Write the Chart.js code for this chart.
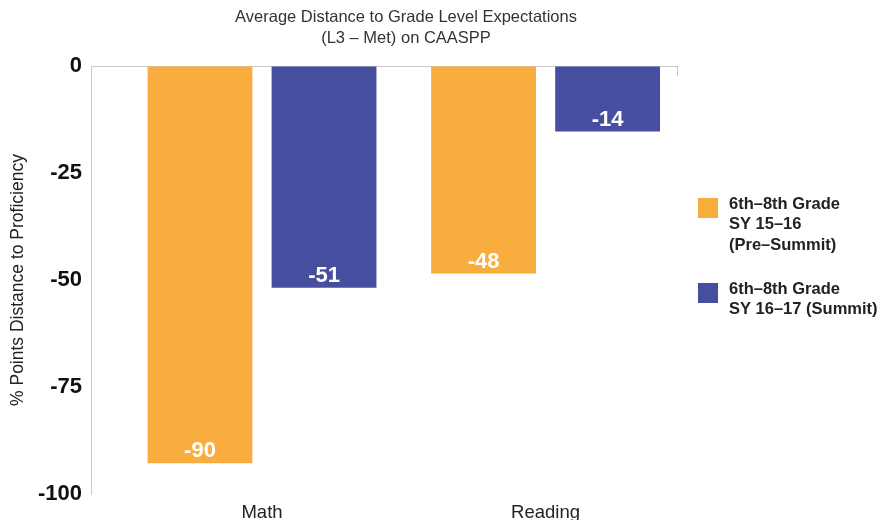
<!DOCTYPE html>
<html>
<head>
<meta charset="utf-8">
<script src="https://cdn.jsdelivr.net/npm/chart.js@4.4.0/dist/chart.umd.min.js"></script>
<style>
  html, body { margin: 0; padding: 0; background: #fff; }
</style>
</head>
<body>
<canvas id="chart" width="895" height="520"></canvas>
<script>
const categories = ['Math', 'Reading'];
const preSummit = [-92.8, -48.5];
const summit = [-51.8, -15.3];
const preSummitLabels = ['-90', '-48'];
const summitLabels = ['-51', '-14'];
const yTicks = [-100, -75, -50, -25, 0];
const seriesNames = [
  ['6th–8th Grade', 'SY 15–16', '(Pre–Summit)'],
  ['6th–8th Grade', 'SY 16–17 (Summit)']
];
const titleLines = ['Average Distance to Grade Level Expectations', '(L3 – Met) on CAASPP'];
const yTitle = '% Points Distance to Proficiency';
const colors = ['#F9AD3F', '#464E9F'];

const FONT = '"Liberation Sans", Arial, sans-serif';

// etiquetas dentro de las barras, titulo y leyenda
const overlay = {
  id: 'overlay',
  afterDatasetsDraw(chart) {
    const ctx = chart.ctx;
    ctx.save();
    ctx.font = 'bold 22px ' + FONT;
    ctx.fillStyle = '#fff';
    ctx.textAlign = 'center';
    ctx.textBaseline = 'middle';
    [preSummitLabels, summitLabels].forEach((labels, d) => {
      chart.getDatasetMeta(d).data.forEach((bar, i) => {
        ctx.fillText(labels[i], bar.x, bar.y - 12);
      });
    });
    ctx.restore();
  },
  afterDraw(chart) {
    const ctx = chart.ctx;
    ctx.save();
    ctx.textBaseline = 'middle';

    ctx.font = '16.5px ' + FONT;
    ctx.fillStyle = '#333';
    ctx.textAlign = 'center';
    titleLines.forEach((t, i) => ctx.fillText(t, 406, 17 + i * 21));

    ctx.font = 'bold 16.5px ' + FONT;
    ctx.textAlign = 'left';
    const boxTops = [198, 283];
    seriesNames.forEach((lines, d) => {
      ctx.fillStyle = colors[d];
      ctx.fillRect(698, boxTops[d], 20, 20);
      ctx.fillStyle = '#222';
      lines.forEach((l, i) => ctx.fillText(l, 729, boxTops[d] + 6 + i * 20.5));
    });

    // marca al final de la linea del cero
    const a = chart.chartArea;
    ctx.strokeStyle = '#c9c9c9';
    ctx.lineWidth = 1;
    ctx.beginPath();
    ctx.moveTo(a.right - 0.5, a.top);
    ctx.lineTo(a.right - 0.5, a.top + 10);
    ctx.stroke();
    ctx.restore();
  }
};

new Chart(document.getElementById('chart'), {
  type: 'bar',
  data: {
    datasets: [
      {
        label: seriesNames[0].join(' '),
        data: categories.map((c, i) => ({ x: i, y: preSummit[i] })),
        backgroundColor: colors[0]
      },
      {
        label: seriesNames[1].join(' '),
        data: categories.map((c, i) => ({ x: i, y: summit[i] })),
        backgroundColor: colors[1]
      }
    ]
  },
  options: {
    responsive: false,
    animation: false,
    categoryPercentage: 0.875,
    barPercentage: 0.845,
    layout: { padding: { top: 66, right: 217, bottom: 0, left: 0 } },
    plugins: {
      legend: { display: false },
      tooltip: { enabled: false }
    },
    scales: {
      x: {
        type: 'linear',
        offset: false,
        min: -0.603,
        max: 1.467,
        afterBuildTicks: scale => { scale.ticks = categories.map((c, i) => ({ value: i })); },
        afterFit: scale => { scale.height = 26; },
        grid: { display: false },
        border: { display: false },
        ticks: {
          callback: v => categories[v],
          font: { size: 18.5, family: FONT },
          color: '#222',
          padding: 0,
          autoSkip: false,
          maxRotation: 0
        }
      },
      y: {
        min: -100,
        max: 0,
        afterBuildTicks: scale => { scale.ticks = yTicks.map(v => ({ value: v })); },
        afterFit: scale => { scale.width = 91; },
        grid: {
          drawTicks: false,
          color: ctx => (ctx.tick && ctx.tick.value === 0 ? '#c9c9c9' : 'rgba(0,0,0,0)')
        },
        border: { color: '#c9c9c9' },
        ticks: {
          font: { size: 22, weight: 'bold', family: FONT },
          color: '#111',
          padding: 9
        },
        title: {
          display: true,
          text: yTitle,
          font: { size: 17.5, family: FONT },
          color: '#222',
          padding: { top: 8, bottom: 0 }
        }
      }
    }
  },
  plugins: [overlay]
});
</script>
</body>
</html>
